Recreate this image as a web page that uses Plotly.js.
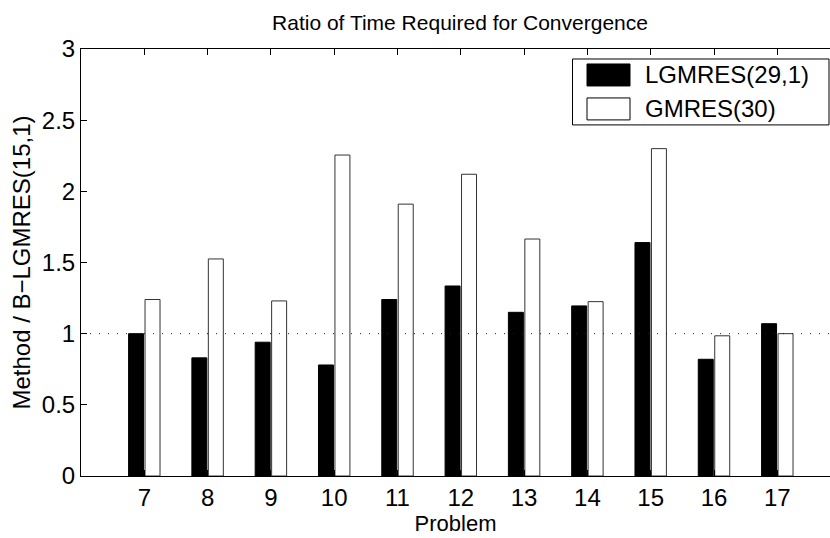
<!DOCTYPE html>
<html>
<head>
<meta charset="utf-8">
<script src="https://cdn.plot.ly/plotly-3.0.1.min.js"></script>
<style>html,body{margin:0;padding:0;background:#fff;}#chart{width:830px;height:538px;}</style>
</head>
<body>
<div id="chart"></div>
<script>
const problems = [7, 8, 9, 10, 11, 12, 13, 14, 15, 16, 17];
const lgmres = [1.00, 0.83, 0.94, 0.78, 1.24, 1.335, 1.15, 1.195, 1.64, 0.82, 1.07];
const gmres = [1.24, 1.525, 1.23, 2.255, 1.91, 2.12, 1.665, 1.225, 2.30, 0.985, 1.00];
const seriesNames = ['LGMRES(29,1)', 'GMRES(30)'];
const yTicks = [0, 0.5, 1, 1.5, 2, 2.5, 3];
const yTickText = ['0', '0.5', '1', '1.5', '2', '2.5', '3'];
const refLine = 1;

const W = 830, H = 538;
const mL = 81, mR = 0, mT = 49, mB = 61.5;
const plotW = W - mL - mR, plotH = H - mT - mB;
const pxPerUnit = 63.3;
const xr = [6, 6 + plotW / pxPerUnit];
const px2x = p => (p - mL) / plotW;
const px2y = p => (H - mB - p) / plotH;

const font = 'Liberation Sans, Arial, Helvetica, sans-serif';

const traces = [
  {type: 'bar', x: problems, y: lgmres, name: seriesNames[0],
   marker: {color: '#000', line: {color: '#000', width: 1}}, showlegend: false, hoverinfo: 'x+y'},
  {type: 'bar', x: problems, y: gmres, name: seriesNames[1],
   marker: {color: '#fff', line: {color: '#333', width: 1}}, showlegend: false, hoverinfo: 'x+y'}
];

// legend box (drawn by hand to match the wide swatches)
const lg = {l: 572.5, r: 829, t: 59, b: 125, sx0: 587, sx1: 630, tx: 643, rows: [64, 98], sh: 22};
const shapes = [
  {type: 'line', xref: 'paper', yref: 'y', x0: 0, x1: 1, y0: refLine, y1: refLine,
   line: {color: '#222', width: 1, dash: '1px,8px'}, layer: 'above'},
  {type: 'rect', xref: 'paper', yref: 'paper', x0: px2x(lg.l), x1: px2x(lg.r), y0: px2y(lg.b), y1: px2y(lg.t),
   line: {color: '#000', width: 1}, fillcolor: '#fff', layer: 'above'}
];
const annotations = [];
const swFill = ['#000', '#fff'];
seriesNames.forEach((nm, i) => {
  const top = lg.rows[i];
  shapes.push({type: 'rect', xref: 'paper', yref: 'paper', x0: px2x(lg.sx0), x1: px2x(lg.sx1),
    y0: px2y(top + lg.sh), y1: px2y(top), line: {color: '#000', width: 1}, fillcolor: swFill[i], layer: 'above'});
  annotations.push({xref: 'paper', yref: 'paper', x: px2x(lg.tx), y: px2y(top + lg.sh / 2),
    xanchor: 'left', yanchor: 'middle', showarrow: false, text: nm,
    font: {family: font, size: 24, color: '#000'}});
});

const layout = {
  width: W, height: H,
  margin: {l: mL, r: mR, t: mT, b: mB, pad: 0},
  paper_bgcolor: '#fff', plot_bgcolor: '#fff',
  barmode: 'group', bargap: 0.48, bargroupgap: 0.09,
  showlegend: false,
  title: {text: 'Ratio of Time Required for Convergence', font: {family: font, size: 21, color: '#000'},
          x: (mL + 839) / 2 / W, xanchor: 'center', y: 1 - 23 / H, yanchor: 'middle'},
  xaxis: {range: xr, tickvals: problems, ticktext: problems.map(String), ticks: 'inside', ticklen: 6,
          tickcolor: '#000', showline: true, linecolor: '#000', linewidth: 1, mirror: 'ticks',
          showgrid: false, zeroline: false, tickfont: {family: font, size: 24, color: '#000'},
          title: {text: 'Problem', font: {family: font, size: 22, color: '#000'}, standoff: 2}},
  yaxis: {range: [0, 3], tickvals: yTicks, ticktext: yTickText, ticks: 'inside', ticklen: 6,
          tickcolor: '#000', showline: true, linecolor: '#000', linewidth: 1, mirror: false,
          showgrid: false, zeroline: false, tickfont: {family: font, size: 24, color: '#000'},
          title: {text: 'Method / B\u2212LGMRES(15,1)', font: {family: font, size: 24, color: '#000'}, standoff: 4}},
  shapes: shapes,
  annotations: annotations
};

Plotly.newPlot('chart', traces, layout, {displayModeBar: false, staticPlot: true});
</script>
</body>
</html>
